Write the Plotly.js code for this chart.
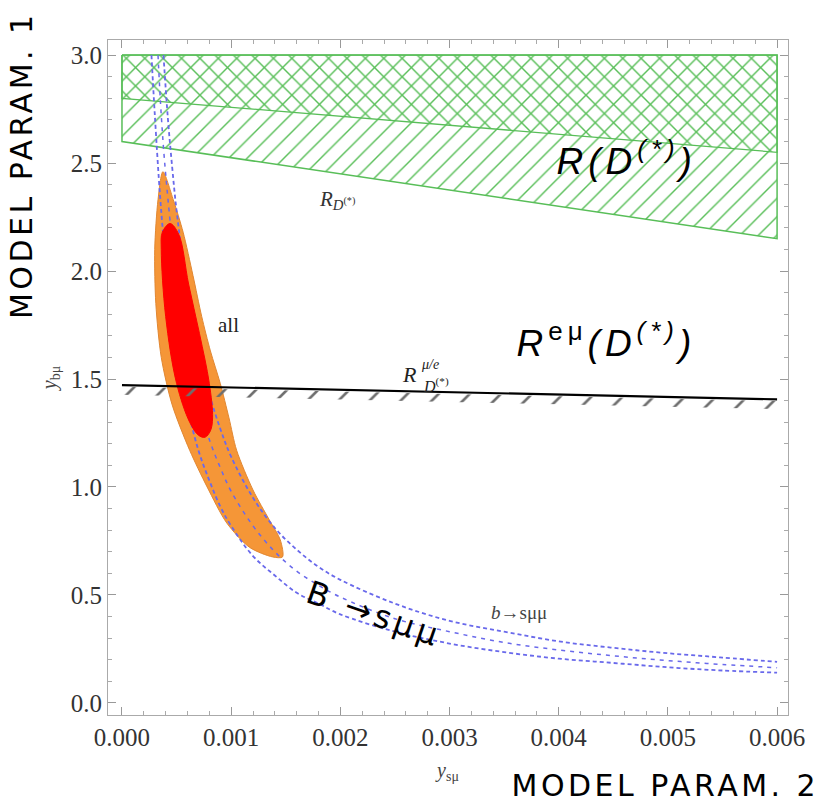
<!DOCTYPE html>
<html>
<head>
<meta charset="utf-8">
<script src="https://cdn.plot.ly/plotly-3.0.1.min.js"></script>
<style>
  body { margin: 0; background: #fff; }
  #chart { width: 830px; height: 803px; }
  g.annotation[data-index="0"] text, g.annotation[data-index="1"] text { letter-spacing: 3.5px; }
  g.annotation[data-index="2"] text, g.annotation[data-index="3"] text { letter-spacing: 5px; }
  g.annotation[data-index="4"] text { letter-spacing: 4px; }
</style>
</head>
<body>
<div id="chart"></div>
<script>
// ---- data ----
// R(D*) allowed band (green hatched)
const greenX = [0, 0.006];
const greenTop = [3.0, 3.0];
const greenBottom = [2.60, 2.15];
const greenCrossBottom = [2.80, 2.55];

// R^{mu/e}(D*) bound (black line, excluded side hatched)
const blackX = [0, 0.001, 0.002, 0.003, 0.004, 0.005, 0.006];
const blackY = [1.472, 1.461, 1.450, 1.439, 1.428, 1.417, 1.406];

// b -> s mu mu band (blue dashed)
const bsUpperX = [0.00038, 0.00042, 0.00046, 0.0005, 0.0006, 0.0007, 0.0008, 0.0009, 0.001, 0.0012, 0.0014, 0.0016, 0.0018, 0.002, 0.0025, 0.003, 0.0035, 0.004, 0.0045, 0.005, 0.0055, 0.006];
const bsUpperY = [3.0, 2.71, 2.48, 2.28, 1.9, 1.63, 1.43, 1.27, 1.14, 0.95, 0.81, 0.71, 0.63, 0.57, 0.46, 0.38, 0.33, 0.285, 0.255, 0.23, 0.21, 0.19];
const bsMidX = [0.00033, 0.00036, 0.0004, 0.0005, 0.0006, 0.0007, 0.0008, 0.0009, 0.001, 0.0012, 0.0014, 0.0016, 0.0018, 0.002, 0.0025, 0.003, 0.0035, 0.004, 0.0045, 0.005, 0.0055, 0.006];
const bsMidY = [3.0, 2.72, 2.45, 1.96, 1.63, 1.4, 1.22, 1.09, 0.98, 0.82, 0.70, 0.61, 0.545, 0.49, 0.39, 0.33, 0.28, 0.245, 0.218, 0.196, 0.178, 0.163];
const bsLowerX = [0.00027, 0.0003, 0.00035, 0.0004, 0.0005, 0.0006, 0.0007, 0.0008, 0.0009, 0.001, 0.0012, 0.0014, 0.0016, 0.0018, 0.002, 0.0025, 0.003, 0.0035, 0.004, 0.0045, 0.005, 0.0055, 0.006];
const bsLowerY = [3.0, 2.73, 2.34, 2.05, 1.64, 1.37, 1.17, 1.03, 0.91, 0.82, 0.68, 0.59, 0.51, 0.46, 0.41, 0.33, 0.275, 0.235, 0.205, 0.185, 0.165, 0.15, 0.14];

// combined fit region (orange)
const allX = [0.000375, 0.00047, 0.00056, 0.00065, 0.00073, 0.00081, 0.0009, 0.00098, 0.00105, 0.0012, 0.00135, 0.00145, 0.00147, 0.00138, 0.00117, 0.00096, 0.00078, 0.00062, 0.00046, 0.00036, 0.00031, 0.0003, 0.00033, 0.000375];
const allY = [2.46, 2.33, 2.18, 1.98, 1.79, 1.63, 1.48, 1.32, 1.17, 0.986, 0.847, 0.755, 0.676, 0.676, 0.72, 0.833, 1.0, 1.17, 1.38, 1.6, 1.85, 2.10, 2.33, 2.46];

// best-fit region (red)
const bestX = [0.00044, 0.00052, 0.00061, 0.00071, 0.0008, 0.00083, 0.00081, 0.00076, 0.0007, 0.00062, 0.0005, 0.0004, 0.00036, 0.00037, 0.00044];
const bestY = [2.22, 2.17, 1.94, 1.71, 1.48, 1.32, 1.26, 1.23, 1.24, 1.30, 1.48, 1.79, 2.10, 2.18, 2.22];

const xTickVals = [0, 0.001, 0.002, 0.003, 0.004, 0.005, 0.006];
const yTickVals = [0.0, 0.5, 1.0, 1.5, 2.0, 2.5, 3.0];

// ---- build traces ----
function poly(xs, top, bottom) {
  const x = xs.concat(xs.slice().reverse(), [xs[0]]);
  const y = top.concat(bottom.slice().reverse(), [top[0]]);
  return {x, y};
}
const green = 'rgb(88,190,88)';
const gFull = poly(greenX, greenTop, greenBottom);
const gCross = poly(greenX, greenTop, greenCrossBottom);
const blackBand = poly(blackX, blackY.map(v => v - 0.008), blackY.map(v => v - 0.045));

const blue = 'rgb(105,105,235)';
const traces = [
  {x: gFull.x, y: gFull.y, type: 'scatter', mode: 'lines', fill: 'toself',
   fillcolor: 'rgba(0,0,0,0)', line: {color: green, width: 1.5},
   fillpattern: {shape: '/', fgcolor: green, bgcolor: 'rgba(0,0,0,0)', size: 13, solidity: 0.11, fillmode: 'replace'},
   hoverinfo: 'skip', showlegend: false},
  {x: gCross.x, y: gCross.y, type: 'scatter', mode: 'lines', fill: 'toself',
   fillcolor: 'rgba(0,0,0,0)', line: {color: green, width: 1.3},
   fillpattern: {shape: '\\', fgcolor: green, bgcolor: 'rgba(0,0,0,0)', size: 13, solidity: 0.11, fillmode: 'replace'},
   hoverinfo: 'skip', showlegend: false},
  {x: allX, y: allY, type: 'scatter', mode: 'lines', fill: 'toself',
   fillcolor: 'rgb(245,150,55)', line: {color: 'rgb(225,135,50)', width: 1, shape: 'spline', smoothing: 0.8},
   hoverinfo: 'skip', showlegend: false},
  {x: bsUpperX, y: bsUpperY, type: 'scatter', mode: 'lines',
   line: {color: blue, width: 1.8, dash: '4px,3px', shape: 'spline'}, hoverinfo: 'skip', showlegend: false},
  {x: bsMidX, y: bsMidY, type: 'scatter', mode: 'lines',
   line: {color: blue, width: 1.5, dash: '4px,5px', shape: 'spline'}, hoverinfo: 'skip', showlegend: false},
  {x: bsLowerX, y: bsLowerY, type: 'scatter', mode: 'lines',
   line: {color: blue, width: 1.8, dash: '4px,3px', shape: 'spline'}, hoverinfo: 'skip', showlegend: false},
  {x: bestX, y: bestY, type: 'scatter', mode: 'lines', fill: 'toself',
   fillcolor: 'rgb(255,0,0)', line: {color: 'rgb(255,0,0)', width: 1, shape: 'spline', smoothing: 1},
   hoverinfo: 'skip', showlegend: false},
  {x: blackBand.x, y: blackBand.y, type: 'scatter', mode: 'none', fill: 'toself',
   fillcolor: 'rgba(0,0,0,0)',
   fillpattern: {shape: '/', fgcolor: 'rgb(110,110,110)', bgcolor: 'rgba(0,0,0,0)', size: 22, solidity: 0.12, fillmode: 'replace'},
   hoverinfo: 'skip', showlegend: false},
  {x: blackX, y: blackY, type: 'scatter', mode: 'lines',
   line: {color: 'black', width: 2.2}, hoverinfo: 'skip', showlegend: false}
];

const serif = 'Liberation Serif, Times New Roman, serif';
const sans = 'Liberation Sans, DejaVu Sans, Arial, sans-serif';

const annotations = [
  {text: 'MODEL PARAM. 1', xref: 'paper', yref: 'paper', x: -0.127, y: 0.815, textangle: -90,
   showarrow: false, xanchor: 'center', yanchor: 'middle', font: {family: 'DejaVu Sans', size: 30, color: 'black'}},
  {text: 'MODEL PARAM. 2', xref: 'paper', yref: 'paper', x: 0.82, y: -0.104,
   showarrow: false, xanchor: 'center', yanchor: 'middle', font: {family: 'DejaVu Sans', size: 30, color: 'black'}},
  {text: '<i>R(D<sup>(*)</sup>)</i>', x: 0.00462, y: 2.52, showarrow: false,
   font: {family: sans, size: 37, color: 'black'}},
  {text: '<i>R</i><sup>eμ</sup><i>(D<sup>(*)</sup>)</i>', x: 0.00444, y: 1.68, showarrow: false,
   font: {family: sans, size: 37, color: 'black'}},
  {text: 'B →sμμ', x: 0.00231, y: 0.41, textangle: 19, showarrow: false,
   font: {family: 'DejaVu Sans', size: 32, color: 'black'}},
  {text: '<i>R</i><sub><i>D</i><sup>(*)</sup></sub>', x: 0.00197, y: 2.33, showarrow: false,
   font: {family: serif, size: 21, color: '#333'}},
  {text: 'all', x: 0.00098, y: 1.75, showarrow: false,
   font: {family: serif, size: 21, color: '#222'}},
  {text: '<i>R</i>', x: 0.00263, y: 1.52, showarrow: false,
   font: {family: serif, size: 22, color: '#222'}},
  {text: '<i>μ/e</i>', x: 0.00263, y: 1.52, xshift: 21, yshift: 10, showarrow: false,
   font: {family: serif, size: 14, color: '#222'}},
  {text: '<i>D</i><sup>(*)</sup>', x: 0.00263, y: 1.52, xshift: 27, yshift: -10, showarrow: false,
   font: {family: serif, size: 16, color: '#222'}},
  {text: '<i>b</i>→sμμ', x: 0.00364, y: 0.42, showarrow: false,
   font: {family: serif, size: 19, color: '#444'}}
];

const axisCommon = {
  showline: true, linecolor: '#aaa', linewidth: 1, mirror: 'ticks',
  ticks: 'inside', ticklen: 8, tickcolor: '#999', tickwidth: 1,
  showgrid: false, zeroline: false,
  tickfont: {family: serif, size: 25, color: '#333'}
};

const layout = {
  width: 830, height: 803,
  margin: {l: 108, r: 42, t: 40, b: 88},
  paper_bgcolor: 'white', plot_bgcolor: 'white',
  showlegend: false,
  xaxis: Object.assign({}, axisCommon, {
    range: [-0.000128, 0.0061], tickvals: xTickVals, tickformat: '.3f',
    minor: {dtick: 0.0002, tick0: 0, ticks: 'inside', ticklen: 4, tickcolor: '#aaa', showgrid: false},
    title: {text: '<i>y</i><sub>sμ</sub>', font: {family: serif, size: 20, color: '#444'}, standoff: 12}
  }),
  yaxis: Object.assign({}, axisCommon, {
    range: [-0.056, 3.07], tickvals: yTickVals, tickformat: '.1f',
    minor: {dtick: 0.1, tick0: 0, ticks: 'inside', ticklen: 4, tickcolor: '#aaa', showgrid: false},
    title: {text: '<i>y</i><sub>bμ</sub>', font: {family: serif, size: 20, color: '#444'}, standoff: 8}
  }),
  annotations: annotations
};

Plotly.newPlot('chart', traces, layout, {displayModeBar: false, staticPlot: true});
</script>
</body>
</html>
